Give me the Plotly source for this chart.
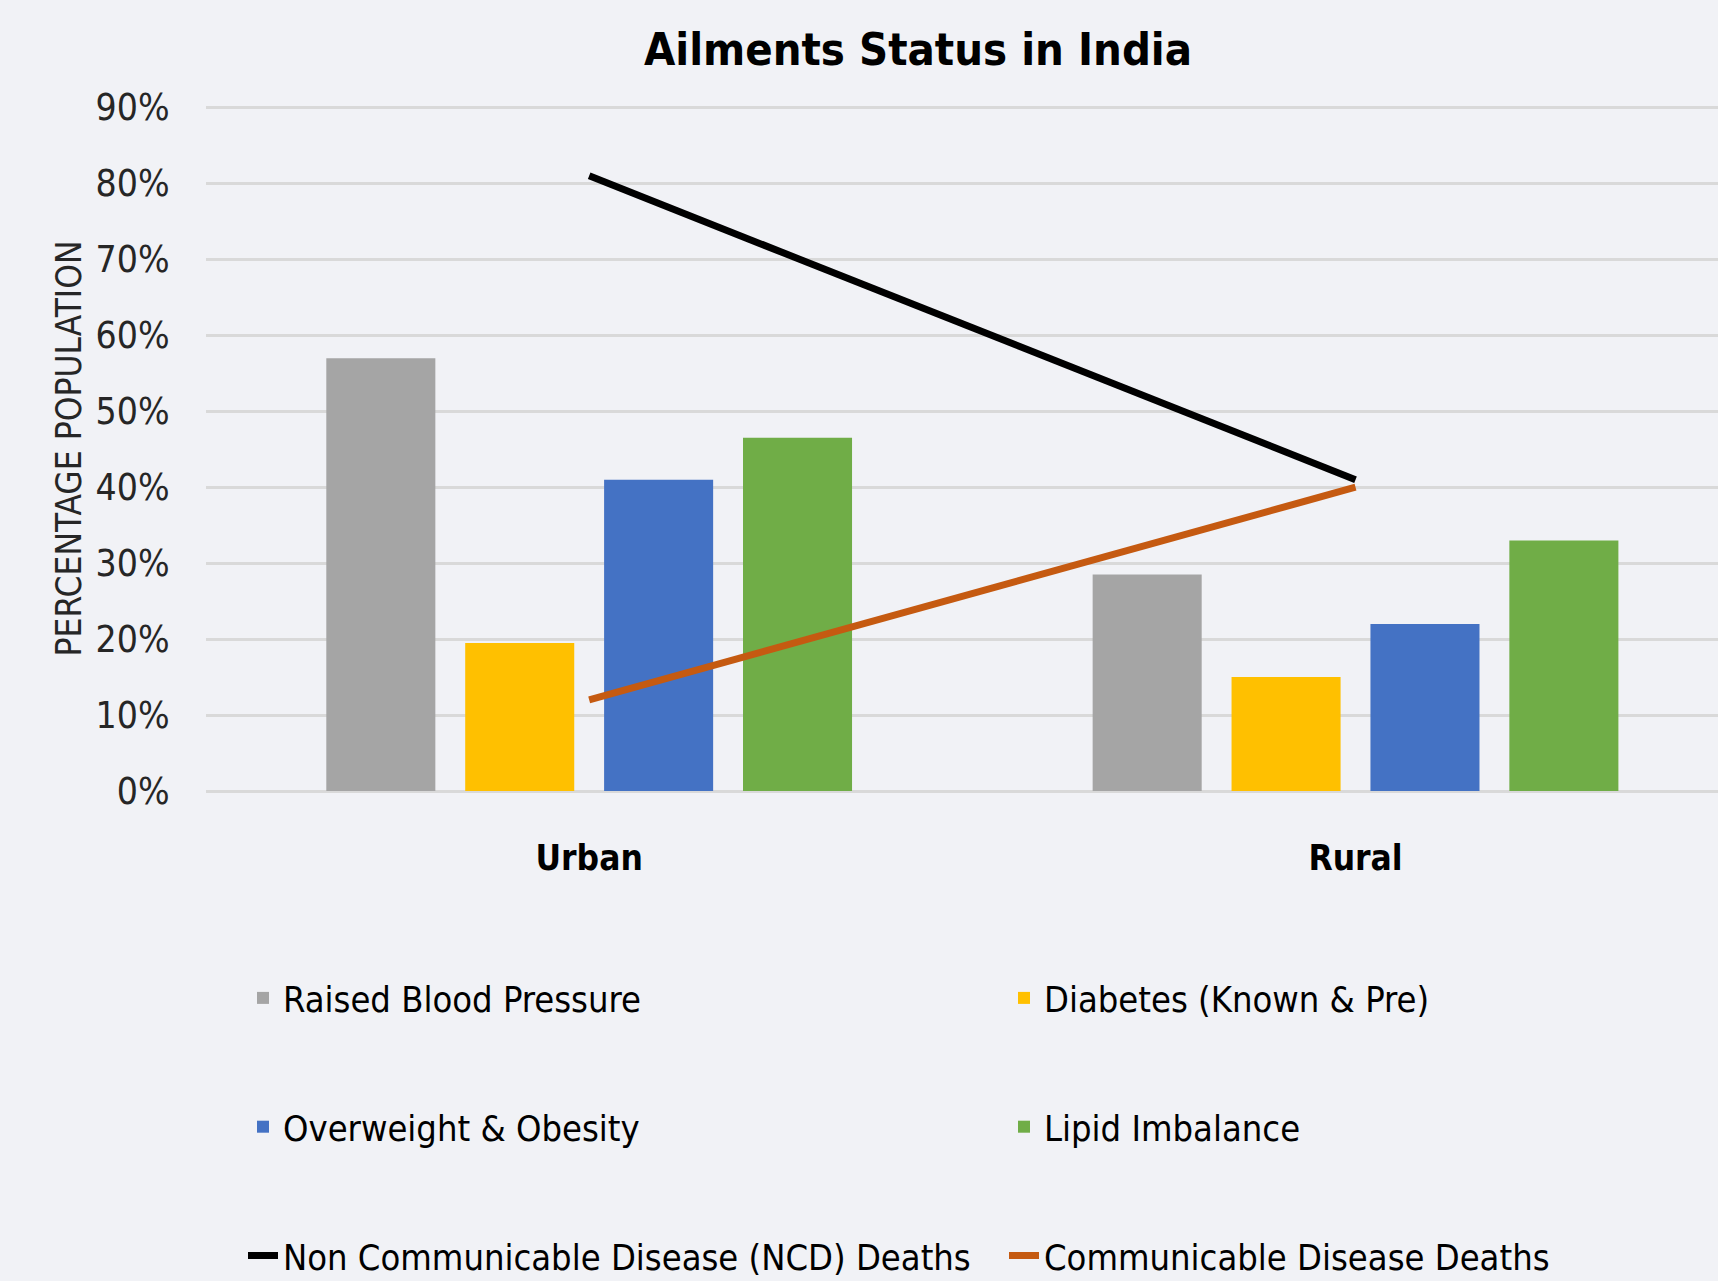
import plotly.graph_objects as go

categories = ["Urban", "Rural"]
raised_bp = [0.57, 0.285]
diabetes = [0.195, 0.15]
overweight = [0.41, 0.22]
lipid = [0.465, 0.33]
ncd_deaths = [0.81, 0.41]
cd_deaths = [0.12, 0.40]
y_ticks = [0, 0.1, 0.2, 0.3, 0.4, 0.5, 0.6, 0.7, 0.8, 0.9]
y_title = "PERCENTAGE POPULATION"

FONT = "Liberation Sans Narrow, DejaVu Sans Condensed, Roboto Condensed, Liberation Sans, sans-serif"
BG = "#F1F2F6"

fig = go.Figure()
bars = [
    ("Raised Blood Pressure", raised_bp, "#A5A5A5", "legend"),
    ("Diabetes (Known & Pre)", diabetes, "#FFC000", "legend2"),
    ("Overweight & Obesity", overweight, "#4472C4", "legend"),
    ("Lipid Imbalance", lipid, "#70AD47", "legend2"),
]
for name, vals, col, lg in bars:
    fig.add_trace(go.Bar(x=categories, y=vals, name=name, marker_color=col,
                         marker_line_width=0, legend=lg, legendgroup=name))
fig.add_trace(go.Scatter(x=categories, y=ncd_deaths, mode="lines",
                         name="Non Communicable Disease (NCD) Deaths",
                         line=dict(color="#000000", width=7), legend="legend",
                         legendgroup="ncd"))
fig.add_trace(go.Scatter(x=categories, y=cd_deaths, mode="lines",
                         name="Communicable Disease Deaths",
                         line=dict(color="#C55A11", width=7), legend="legend2",
                         legendgroup="cd"))

leg_common = dict(orientation="v", traceorder="grouped", tracegroupgap=79,
                  font=dict(family=FONT, size=36, color="#000000"),
                  bgcolor="rgba(0,0,0,0)", xref="container", yref="container",
                  xanchor="left", yanchor="top", itemwidth=30)

fig.update_layout(
    width=1718, height=1281,
    paper_bgcolor=BG, plot_bgcolor=BG,
    margin=dict(l=206, r=0, t=106, b=490, autoexpand=False),
    barmode="group", bargap=0.275, bargroupgap=0.215,
    title=dict(text="<b>Ailments Status in India</b>", x=918 / 1718, xanchor="center",
               y=1 - 49 / 1281, yanchor="middle",
               font=dict(family=FONT, size=45, color="#000000")),
    xaxis=dict(type="category", range=[-0.5, 1.473], showgrid=False,
               ticks="outside", ticklen=36, tickcolor="rgba(0,0,0,0)",
               tickfont=dict(family=FONT, size=35, color="#000000"),
               tickvals=categories, ticktext=["<b>Urban</b>", "<b>Rural</b>"],
               showline=False, zeroline=False),
    yaxis=dict(range=[0, 0.902], tickvals=y_ticks, tickformat=".0%",
               showgrid=True, gridcolor="#D9D9D9", gridwidth=3,
               zeroline=True, zerolinecolor="#D9D9D9", zerolinewidth=3,
               tickfont=dict(family=FONT, size=37, color="#262626"),
               ticks="outside", ticklen=28, tickcolor="rgba(0,0,0,0)"),
    annotations=[dict(text=y_title, xref="paper", yref="paper",
                      x=(68 - 206) / 1512, y=0.5, textangle=-90,
                      xanchor="center", yanchor="middle", showarrow=False,
                      font=dict(family=FONT, size=35, color="#262626"))],
    legend=dict(x=243 / 1718, y=1 - 968 / 1281, **leg_common),
    legend2=dict(x=1004 / 1718, y=1 - 968 / 1281, **leg_common),
    showlegend=True,
)

fig.write_html("out.html", config={"displayModeBar": False},
               post_script="document.body.style.margin='0';document.body.style.padding='0';")
